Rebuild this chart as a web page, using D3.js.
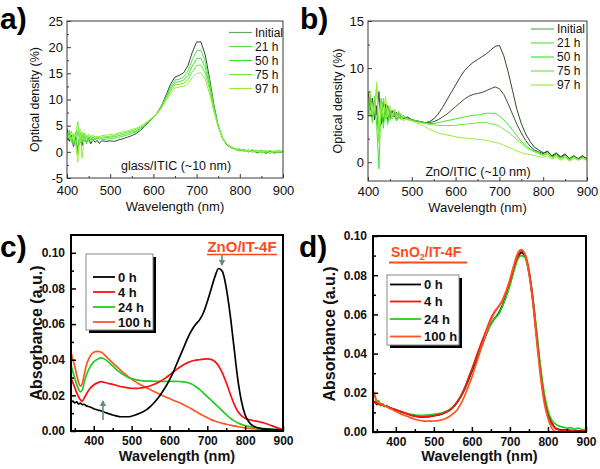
<!DOCTYPE html>
<html><head><meta charset="utf-8">
<script src="https://cdn.jsdelivr.net/npm/d3@7"></script>
<style>body{margin:0;background:#fff}svg{display:block}</style>
</head><body>
<svg id="c" width="600" height="469"></svg>
<script>
// ---------- DATA ----------
const W_AB = [400,405,410,415,420,425,430,435,440,445,450,455,460,465,470,475,480,
  490,500,510,520,530,540,550,560,570,580,590,600,610,620,630,640,650,660,670,680,690,700,
  710,720,730,740,750,760,770,780,790,800,810,820,830,840,850,860,870,880,890,900];
const LEGEND_AB = ["Initial","21 h","50 h","75 h","97 h"];
const A_INITIAL = [4.5,2.0,3.2,1.0,2.8,0.2,3.6,1.2,3.0,1.8,2.6,1.5,2.4,1.8,2.2,1.6,2.1,
  2.0,2.1,2.0,2.3,2.5,2.8,3.1,3.5,4.1,4.9,5.7,6.6,7.6,9.0,11.0,13.0,14.3,14.6,15.1,16.5,19.0,21.0,
  21.0,18.5,14.0,9.0,5.0,2.6,1.3,0.8,0.5,0.2,0.4,0.0,0.3,-0.2,0.2,-0.3,0.1,-0.2,-0.1,0.0];
const A_21H = [3.0,4.2,1.8,3.4,1.2,4.0,2.2,3.2,2.0,3.0,2.2,2.8,2.0,2.6,2.4,2.7,2.3,
  2.4,2.5,2.6,2.8,3.0,3.2,3.5,3.8,4.3,5.0,5.8,6.6,7.6,8.9,10.7,12.5,13.7,13.9,14.3,15.5,17.6,19.3,
  19.4,17.3,13.3,8.7,5.0,2.7,1.4,0.8,0.6,0.3,0.1,0.4,-0.1,0.3,-0.2,0.2,-0.3,0.2,-0.2,0.1];
const A_50H = [2.2,3.6,2.6,1.4,3.8,-0.5,2.9,1.8,3.6,1.5,2.9,2.2,2.9,2.3,2.8,2.4,2.6,
  2.7,2.8,2.9,3.1,3.3,3.5,3.8,4.0,4.5,5.1,5.9,6.6,7.5,8.8,10.5,12.1,13.3,13.4,13.7,14.6,16.4,17.8,
  17.9,16.1,12.6,8.4,4.9,2.7,1.4,0.9,0.4,0.5,0.2,0.1,0.4,-0.1,0.3,-0.2,0.2,0.0,0.3,-0.1];
const A_75H = [3.4,2.4,4.0,2.0,3.0,5.8,1.6,3.8,2.4,3.2,2.0,3.1,2.6,3.0,2.5,2.9,2.8,
  2.9,3.0,3.1,3.4,3.6,3.8,4.0,4.3,4.7,5.3,6.0,6.7,7.5,8.7,10.2,11.7,12.8,12.9,13.1,13.8,15.3,16.5,
  16.6,15.0,11.9,8.1,4.8,2.7,1.5,0.9,0.6,0.2,0.4,0.0,0.2,0.3,-0.2,0.1,0.2,-0.3,0.1,0.2];
const A_97H = [2.6,3.0,2.4,3.6,1.6,-2.0,4.4,-1.2,3.2,2.4,3.4,2.6,3.2,2.8,3.0,2.9,3.1,
  3.2,3.3,3.4,3.6,3.9,4.0,4.3,4.5,4.9,5.4,6.0,6.7,7.4,8.5,9.9,11.2,12.2,12.4,12.5,13.0,14.2,15.0,
  15.1,13.8,11.1,7.7,4.7,2.7,1.5,1.0,0.5,0.6,0.2,0.3,-0.1,0.2,0.0,0.3,-0.2,0.1,0.2,-0.1];

const B_INITIAL = [7.5,5.5,6.8,4.5,6.0,2.4,5.5,4.2,6.2,4.4,5.6,4.6,5.4,4.4,5.2,4.8,4.6,
  4.8,4.5,4.4,4.3,4.2,4.3,4.6,5.1,5.8,6.6,7.4,8.2,9.0,9.7,10.2,10.6,10.9,11.2,11.5,11.9,12.3,12.4,
  11.3,9.6,7.6,5.6,4.1,3.0,2.2,1.6,1.3,1.0,1.1,0.7,1.0,0.5,0.8,0.4,0.7,0.3,0.6,0.4];
const B_21H = [6.0,7.2,4.8,6.6,5.0,7.5,4.0,6.4,5.0,6.0,4.6,5.5,4.8,5.3,4.6,5.0,4.7,
  4.7,4.5,4.4,4.3,4.2,4.2,4.3,4.5,4.8,5.1,5.5,5.9,6.3,6.7,7.0,7.2,7.3,7.4,7.6,7.8,8.0,7.8,
  7.2,6.2,5.1,4.0,3.1,2.3,1.7,1.3,1.1,0.9,1.2,0.6,0.9,0.6,0.9,0.3,0.6,0.4,0.7,0.3];
const B_50H = [5.0,6.4,4.2,7.0,3.8,-0.7,6.8,3.6,5.8,4.0,5.5,4.6,5.6,4.4,5.4,4.6,5.0,
  4.6,4.5,4.4,4.3,4.2,4.1,4.1,4.2,4.3,4.4,4.5,4.6,4.7,4.8,4.9,5.0,5.0,5.1,5.2,5.2,5.2,4.9,
  4.5,4.0,3.4,2.8,2.2,1.8,1.4,1.2,1.0,0.8,1.0,0.5,0.8,0.4,0.7,0.3,0.6,0.2,0.5,0.3];
const B_75H = [6.6,4.8,6.2,5.2,8.0,3.0,5.0,6.8,4.6,5.8,4.4,5.2,5.0,4.8,5.2,4.5,4.8,
  4.5,4.4,4.3,4.2,4.1,4.0,4.0,3.9,3.9,3.9,3.9,3.9,4.0,4.0,4.1,4.1,4.2,4.2,4.2,4.1,4.0,3.8,
  3.5,3.2,2.8,2.4,2.0,1.6,1.3,1.1,0.9,0.7,0.9,0.4,0.7,0.3,0.6,0.2,0.5,0.3,0.4,0.2];
const B_97H = [5.6,7.6,5.0,6.0,8.5,2.0,6.2,4.8,7.0,4.8,6.0,4.6,5.6,5.0,4.6,5.2,4.4,
  4.6,4.4,4.2,4.0,3.8,3.5,3.3,3.1,3.0,2.9,2.8,2.7,2.6,2.6,2.5,2.5,2.4,2.4,2.3,2.2,2.1,2.0,
  1.8,1.6,1.4,1.2,1.0,0.9,0.8,0.7,0.6,0.5,0.7,0.3,0.6,0.2,0.5,0.1,0.4,0.2,0.5,0.2];

const W_CD = [340,345,350,355,360,365,370,375,380,390,400,410,420,430,440,450,460,470,480,
  490,500,510,520,530,540,550,560,570,580,590,600,610,620,630,640,650,660,670,680,690,700,
  710,720,730,740,750,760,770,780,790,800,810,820,830,840,850,860,870,880,890,900];
const LEGEND_CD = ["0 h","4 h","24 h","100 h"];
const C_0H = [0.016,0.0168,0.0158,0.0163,0.0152,0.0157,0.0148,0.015,0.0142,
  0.0135,0.0125,0.0118,0.0112,0.0104,0.0097,0.009,0.0085,0.008,0.008,
  0.008,0.0083,0.009,0.0098,0.0108,0.012,0.0138,0.016,0.0185,0.0215,
  0.0248,0.0285,0.033,0.038,0.043,0.048,0.053,0.057,0.06,0.0625,
  0.0665,0.0725,0.0795,0.0865,0.0912,0.0895,0.0805,0.066,0.048,0.03,
  0.017,0.009,0.005,0.003,0.002,0.0015,0.001,0.001,0.0008,0.0006,0.0005,0.0004];
const C_4H = [0.030,0.027,0.0245,0.0215,0.0192,0.0175,0.0168,0.0185,0.0205,
  0.0238,0.0258,0.027,0.0277,0.0272,0.0266,0.0262,0.0256,0.025,0.0246,
  0.0242,0.024,0.0239,0.024,0.0243,0.0248,0.0254,0.0262,0.0272,0.0284,
  0.0298,0.0314,0.033,0.0347,0.0362,0.0375,0.0385,0.0393,0.0398,0.04,
  0.0403,0.0405,0.0402,0.039,0.0365,0.0325,0.0272,0.0212,0.0155,0.0112,
  0.0086,0.0072,0.0064,0.0059,0.0055,0.005,0.0045,0.0038,0.003,0.0022,0.0015,0.001];
const C_24H = [0.037,0.0332,0.0295,0.0262,0.0235,0.022,0.0232,0.0272,0.031,
  0.0358,0.0388,0.0403,0.041,0.0402,0.0385,0.0365,0.0345,0.0328,0.0314,
  0.0302,0.0294,0.0288,0.0284,0.0281,0.028,0.028,0.0279,0.0279,0.0279,
  0.0279,0.0279,0.0279,0.0278,0.0277,0.0275,0.0271,0.0262,0.0248,0.0232,
  0.0213,0.0193,0.0173,0.0153,0.0133,0.0113,0.0093,0.0074,0.0058,0.0046,
  0.0037,0.0031,0.0026,0.0022,0.0019,0.0016,0.0014,0.0012,0.0011,0.001,0.0009,0.0008];
const C_100H = [0.044,0.0402,0.0362,0.0315,0.0272,0.0252,0.0268,0.0318,0.0365,
  0.0418,0.0442,0.0447,0.0442,0.0425,0.0403,0.0382,0.0362,0.0343,0.0325,
  0.0308,0.0292,0.0277,0.0264,0.0252,0.0241,0.0231,0.0221,0.0211,0.0201,
  0.0191,0.0182,0.0173,0.0164,0.0155,0.0145,0.0134,0.0122,0.0109,0.0097,
  0.0085,0.0074,0.0064,0.0056,0.0049,0.0043,0.0038,0.0033,0.0029,0.0025,
  0.0021,0.0018,0.0015,0.0013,0.0011,0.0009,0.0008,0.0006,0.0005,0.0004,0.0003,0.0002];
const D_0H = [0.015,0.0155,0.014,0.0148,0.0138,0.0142,0.0132,0.0135,0.0128,
  0.012,0.0113,0.0106,0.0099,0.0092,0.0086,0.0081,0.0078,0.0077,0.0078,
  0.008,0.0083,0.0087,0.0092,0.01,0.011,0.0125,0.0148,0.0178,0.0215,
  0.026,0.031,0.036,0.041,0.046,0.051,0.055,0.058,0.0605,0.0645,
  0.0695,0.0755,0.0825,0.0885,0.0915,0.0895,0.0815,0.068,0.05,0.032,
  0.018,0.009,0.0045,0.002,0.0012,0.001,0.0009,0.0008,0.0007,0.0006,0.0006,0.0005];
const D_4H = [0.016,0.015,0.0148,0.0142,0.014,0.0136,0.0134,0.013,0.0127,
  0.012,0.0113,0.0106,0.0099,0.0092,0.0086,0.0081,0.0078,0.0077,0.0078,
  0.008,0.0083,0.0087,0.0092,0.01,0.011,0.0125,0.015,0.018,0.022,
  0.027,0.032,0.0375,0.043,0.048,0.053,0.058,0.0615,0.064,0.067,
  0.0715,0.077,0.084,0.0895,0.0925,0.0905,0.0825,0.068,0.049,0.031,
  0.017,0.008,0.004,0.0018,0.001,0.0008,0.0007,0.0006,0.0005,0.0005,0.0004,0.0004];
const D_24H = [0.017,0.019,0.0145,0.016,0.0135,0.0145,0.013,0.0135,0.0125,
  0.0118,0.0112,0.0106,0.01,0.0095,0.009,0.0087,0.0085,0.0085,0.0086,
  0.0088,0.009,0.0093,0.0097,0.0104,0.0113,0.0128,0.015,0.018,0.022,
  0.027,0.032,0.037,0.042,0.047,0.051,0.055,0.058,0.06,0.064,
  0.069,0.075,0.082,0.088,0.09,0.089,0.082,0.069,0.052,0.034,
  0.02,0.011,0.006,0.004,0.003,0.0025,0.002,0.0022,0.0015,0.002,0.0012,0.0015];
const D_100H = [0.022,0.018,0.016,0.015,0.0145,0.014,0.0135,0.013,0.0125,
  0.0115,0.0105,0.0095,0.0087,0.008,0.0072,0.0065,0.006,0.0057,0.0055,
  0.0055,0.0056,0.0058,0.0062,0.0068,0.0078,0.0092,0.011,0.014,0.018,
  0.023,0.028,0.034,0.04,0.046,0.052,0.057,0.061,0.064,0.067,
  0.072,0.078,0.085,0.091,0.093,0.09,0.081,0.066,0.047,0.029,
  0.015,0.007,0.002,0.0,-0.001,-0.0015,-0.002,-0.002,-0.002,-0.002,-0.002,-0.002];

const X_TICKS_AB = [400,500,600,700,800,900];
const X_TICKS_CD = [400,500,600,700,800,900];
const Y_TICKS_A = [-5,0,5,10,15,20,25];
const Y_TICKS_B = [0,5,10,15];
const Y_TICKS_CD = [0,0.02,0.04,0.06,0.08,0.10];

// ---------- DRAW ----------
const svg = d3.select("#c");
svg.append("rect").attr("width",600).attr("height",469).attr("fill","#fff");
const REG = "'Liberation Sans', Arial, sans-serif";

function panel(o){
  const g = svg.append("g");
  const x = d3.scaleLinear().domain(o.xd).range([o.l,o.r]);
  const y = d3.scaleLinear().domain(o.yd).range([o.b,o.t]);
  const id = "clip"+o.name;
  svg.append("clipPath").attr("id",id).append("rect")
    .attr("x",o.l).attr("y",o.t).attr("width",o.r-o.l).attr("height",o.b-o.t);
  const lg = g.append("g").attr("clip-path",`url(#${id})`);
  const line = d3.line().x((d,i)=>x(o.w[i])).y(d=>y(d)).curve(o.curve);
  o.order.forEach(k=>{
    lg.append("path").attr("d",line(o.series[k])).attr("fill","none")
      .attr("stroke",o.colors[k]).attr("stroke-width",o.lw).attr("stroke-linejoin","round");
  });
  const ax = g.append("g");
  ax.append("g").attr("transform",`translate(0,${o.b})`)
    .call(d3.axisBottom(x).tickValues(o.xminor).tickSize(-o.minor).tickFormat(""));
  ax.append("g").attr("transform",`translate(${o.l},0)`)
    .call(d3.axisLeft(y).tickValues(o.yminor).tickSize(-o.minor).tickFormat(""));
  ax.append("g").attr("transform",`translate(0,${o.b})`)
    .call(d3.axisBottom(x).tickValues(o.xt).tickSize(-o.major).tickPadding(o.xpad).tickFormat(d=>String(d)));
  ax.append("g").attr("transform",`translate(${o.l},0)`)
    .call(d3.axisLeft(y).tickValues(o.yt).tickSize(-o.major).tickPadding(o.ypad).tickFormat(o.yfmt));
  ax.selectAll(".domain").remove();
  ax.selectAll("line").attr("stroke",o.frame).attr("stroke-width",o.tw);
  ax.selectAll("text").attr("font-family",REG).attr("font-size",o.tfs)
    .attr("font-weight",o.bold?"bold":"normal").attr("fill","#111");
  g.append("rect").attr("x",o.l).attr("y",o.t).attr("width",o.r-o.l).attr("height",o.b-o.t)
    .attr("fill","none").attr("stroke",o.frame).attr("stroke-width",o.fw);
  g.append("text").attr("x",(o.l+o.r)/2).attr("y",o.xty).attr("text-anchor","middle")
    .attr("font-family",REG).attr("font-size",o.xfs).attr("font-weight",o.bold?"bold":"normal")
    .attr("fill","#111").text("Wavelength (nm)");
  g.append("text").attr("transform",`translate(${o.ytx},${(o.t+o.b)/2}) rotate(-90)`)
    .attr("text-anchor","middle").attr("font-family",REG).attr("font-size",o.yfs)
    .attr("font-weight",o.bold?"bold":"normal").attr("fill","#111").text(o.ytitle);
  g.append("text").attr("x",o.px).attr("y",o.py).attr("font-family",REG)
    .attr("font-size",30).attr("font-weight","bold").attr("fill","#000").text(o.plabel);
  return {g,x,y};
}

const GREENS_AB = ["#2c4a2c","#5ee04a","#3fe62e","#6fe83a","#96ee3c"];
const LEG_GREENS = ["#62a862","#5ee04a","#3fe62e","#6fe83a","#96ee3c"];

panel({name:"a",l:67,r:283,t:21,b:178,xd:[400,900],yd:[-5,25],w:W_AB,
  series:[A_INITIAL,A_21H,A_50H,A_75H,A_97H],colors:GREENS_AB,order:[0,1,2,3,4],
  curve:d3.curveLinear,lw:1,xt:X_TICKS_AB,yt:Y_TICKS_A,xminor:[450,550,650,750,850],
  yminor:[-2.5,2.5,7.5,12.5,17.5,22.5],major:4,minor:2,xpad:7.5,ypad:4,yfmt:d=>String(d),
  frame:"#3a3a3a",tw:1,fw:1,tfs:13,bold:false,xty:211,xfs:13,ytx:39,yfs:12.5,
  ytitle:"Optical density (%)",px:0,py:29,plabel:"a)"});
panel({name:"b",l:368,r:587,t:21,b:181,xd:[400,900],yd:[-2,15],w:W_AB,
  series:[B_INITIAL,B_21H,B_50H,B_75H,B_97H],colors:["#2c4a2c","#33562c","#3fe62e","#6fe83a","#96ee3c"],order:[0,1,2,3,4],
  curve:d3.curveLinear,lw:1,xt:X_TICKS_AB,yt:Y_TICKS_B,xminor:[450,550,650,750,850],
  yminor:[2.5,7.5,12.5],major:4,minor:2,xpad:6,ypad:4,yfmt:d=>String(d),
  frame:"#3a3a3a",tw:1,fw:1,tfs:13,bold:false,xty:212,xfs:13,ytx:342,yfs:12.5,
  ytitle:"Optical density (%)",px:300,py:29,plabel:"b)"});

const CD_COLORS = ["#000000","#ff1010","#22cc22","#ff5424"];
panel({name:"c",l:71,r:283,t:235,b:431,xd:[340,900],yd:[0,0.11],w:W_CD,
  series:[C_0H,C_4H,C_24H,C_100H],colors:CD_COLORS,order:[3,2,1,0],
  curve:d3.curveMonotoneX,lw:1.7,xt:X_TICKS_CD,yt:Y_TICKS_CD,xminor:[350,450,550,650,750,850],
  yminor:[0.01,0.03,0.05,0.07,0.09],major:5,minor:3,xpad:5,ypad:6,yfmt:d3.format(".2f"),
  frame:"#000",tw:1.5,fw:2,tfs:12,bold:true,xty:461,xfs:14.5,ytx:42,yfs:16,
  ytitle:"Absorbance (a.u.)",px:0,py:257,plabel:"c)"});
panel({name:"d",l:373,r:586,t:236,b:432,xd:[340,900],yd:[0,0.10],w:W_CD,
  series:[D_0H,D_4H,D_24H,D_100H],colors:CD_COLORS,order:[0,2,1,3],
  curve:d3.curveMonotoneX,lw:1.7,xt:X_TICKS_CD,yt:Y_TICKS_CD,xminor:[350,450,550,650,750,850],
  yminor:[0.01,0.03,0.05,0.07,0.09],major:5,minor:3,xpad:5,ypad:6,yfmt:d3.format(".2f"),
  frame:"#000",tw:1.5,fw:2,tfs:12,bold:true,xty:461,xfs:14.5,ytx:335,yfs:16,
  ytitle:"Absorbance (a.u.)",px:299,py:257,plabel:"d)"});

function legAB(x0,y0,dy){
  LEGEND_AB.forEach((t,i)=>{
    const yy=y0+i*dy;
    svg.append("line").attr("x1",x0).attr("x2",x0+23).attr("y1",yy).attr("y2",yy)
      .attr("stroke",LEG_GREENS[i]).attr("stroke-width",1.2);
    svg.append("text").attr("x",x0+26).attr("y",yy+4.3).attr("font-family",REG)
      .attr("font-size",12).attr("fill","#111").text(t);
  });
}
legAB(229,32.5,14);
legAB(531,29,14);
svg.append("text").attr("x",176).attr("y",170).attr("text-anchor","middle").attr("font-family",REG)
  .attr("font-size",12.5).attr("fill","#111").text("glass/ITIC (~10 nm)");
svg.append("text").attr("x",478).attr("y",176).attr("text-anchor","middle").attr("font-family",REG)
  .attr("font-size",12.5).attr("fill","#111").text("ZnO/ITIC (~10 nm)");

function legCD(bx,by,bw,bh,rows,lx,lw){
  svg.append("rect").attr("x",bx+3).attr("y",by+3).attr("width",bw).attr("height",bh).attr("fill","#000");
  svg.append("rect").attr("x",bx).attr("y",by).attr("width",bw).attr("height",bh)
    .attr("fill","#fff").attr("stroke","#888").attr("stroke-width",1);
  LEGEND_CD.forEach((t,i)=>{
    svg.append("line").attr("x1",lx).attr("x2",lx+lw).attr("y1",rows[i]).attr("y2",rows[i])
      .attr("stroke",CD_COLORS[i]).attr("stroke-width",1.8);
    svg.append("text").attr("x",lx+lw+3).attr("y",rows[i]+4.6).attr("font-family",REG)
      .attr("font-size",13).attr("font-weight","bold").attr("fill","#111").text(t);
  });
}
legCD(86,254,67,76,[277,292,307,322],93,22);
legCD(387,275,72,70,[284.5,301.5,319,336.5],390,31);

const ORG = "#ff4a1a";
svg.append("text").attr("x",242).attr("y",251.5).attr("text-anchor","middle").attr("font-family",REG)
  .attr("font-size",15).attr("font-weight","bold").attr("fill",ORG).text("ZnO/IT-4F");
svg.append("line").attr("x1",207).attr("x2",277).attr("y1",254.5).attr("y2",254.5).attr("stroke",ORG).attr("stroke-width",1.5);
const sn = svg.append("text").attr("x",391).attr("y",256.5).attr("font-family",REG)
  .attr("font-size",14).attr("font-weight","bold").attr("fill",ORG);
sn.append("tspan").text("SnO");
sn.append("tspan").attr("font-size",9).attr("dy",3).text("2");
sn.append("tspan").attr("dy",-3).text("/IT-4F");
svg.append("line").attr("x1",389).attr("x2",467).attr("y1",262.5).attr("y2",262.5).attr("stroke",ORG).attr("stroke-width",1.8);

const ARW = "#5f8f88";
function arrow(x0,y1,y2,s){
  svg.append("line").attr("x1",x0).attr("x2",x0).attr("y1",y1).attr("y2",y2)
    .attr("stroke",ARW).attr("stroke-width",1.6);
  svg.append("path").attr("d",`M${x0-3.2},${y2-5*s}L${x0+3.2},${y2-5*s}L${x0},${y2+1*s}Z`).attr("fill",ARW);
}
arrow(222,255,265,1);
arrow(103,420,401,-1);
</script>
</body></html>
